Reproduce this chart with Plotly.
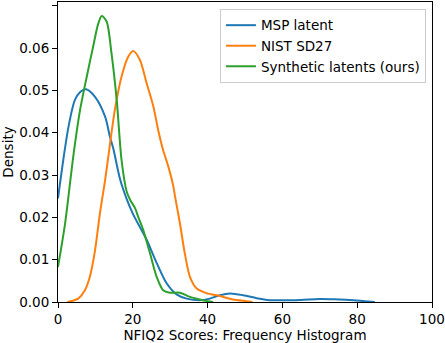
import plotly.graph_objects as go

msp_x = [0, 1.4, 2.8, 4.5, 6, 7.5, 9.9, 12.6, 13.9, 14.8, 16.6, 18.3, 20.1, 21.9, 23.7, 26.4, 29, 31.7, 34.4, 37.9, 40.6, 43.3, 46, 49.5, 53.1, 56, 60, 65, 70, 75, 78, 82, 84.7]
msp_y = [0.0245, 0.0335, 0.0414, 0.0477, 0.0497, 0.0503, 0.0485, 0.0438, 0.039, 0.0362, 0.029, 0.0245, 0.0207, 0.0177, 0.0147, 0.0092, 0.0045, 0.0018, 0.0008, 0.0004, 0.0008, 0.0016, 0.0020, 0.0016, 0.0009, 0.0005, 0.0004, 0.0005, 0.0007, 0.0006, 0.0005, 0.0002, 0.0]

nist_x = [2.5, 4, 5.4, 7.2, 8.5, 9.9, 11.2, 12.6, 13.4, 15.2, 17, 18.8, 20.1, 21.9, 23.7, 25.5, 26.8, 28.1, 29.5, 30.8, 31.3, 32.6, 33.9, 35.3, 37.1, 39.7, 43.3, 46.8, 50.4, 52]
nist_y = [0.0, 0.0003, 0.0008, 0.0028, 0.0059, 0.0122, 0.0209, 0.0288, 0.034, 0.0454, 0.0533, 0.058, 0.0593, 0.0572, 0.0517, 0.0462, 0.0406, 0.0359, 0.032, 0.0275, 0.0249, 0.0186, 0.0115, 0.0059, 0.0032, 0.0021, 0.0014, 0.0006, 0.0002, 0.0]

syn_x = [0, 1.9, 3.2, 4.1, 5.9, 7.7, 9.4, 10.8, 11.7, 13, 14.3, 15.7, 17, 18.4, 19.5, 20.6, 21.5, 22.8, 24.6, 26.4, 28.1, 29.9, 32.6, 35.3, 37.9, 40, 41.5]
syn_y = [0.0083, 0.0186, 0.028, 0.0345, 0.0454, 0.0533, 0.0604, 0.0659, 0.0676, 0.0663, 0.0588, 0.0477, 0.0335, 0.026, 0.0238, 0.0222, 0.0200, 0.017, 0.0115, 0.0059, 0.0028, 0.0022, 0.0022, 0.0012, 0.0006, 0.0002, 0.0]

x_ticks = [0, 20, 40, 60, 80, 100]
y_ticks = [0.00, 0.01, 0.02, 0.03, 0.04, 0.05, 0.06, 0.07]

series = [
    ("MSP latent", msp_x, msp_y, "#1f77b4"),
    ("NIST SD27", nist_x, nist_y, "#ff7f0e"),
    ("Synthetic latents (ours)", syn_x, syn_y, "#2ca02c"),
]

font = "DejaVu Sans"
fig = go.Figure()
for name, xs, ys, c in series:
    fig.add_trace(go.Scatter(x=xs, y=ys, mode="lines", name=name,
                             line=dict(color=c, width=2, shape="spline", smoothing=0.8)))

axis_common = dict(showgrid=False, zeroline=False, showline=True, linecolor="black",
                   linewidth=1, mirror=True, ticks="outside", ticklen=5, tickwidth=1,
                   tickcolor="black", automargin=False,
                   tickfont=dict(family=font, size=13.5, color="black"))

fig.update_xaxes(range=[0, 100], tickvals=x_ticks, ticktext=[str(v) for v in x_ticks],
                 title=dict(text="NFIQ2 Scores: Frequency Histogram", standoff=4,
                            font=dict(family=font, size=13.5, color="black")),
                 **axis_common)
fig.update_yaxes(range=[0, 0.0709], tickvals=y_ticks, ticktext=[f"{v:.2f}" for v in y_ticks],
                 title=dict(text="Density", standoff=7,
                            font=dict(family=font, size=13.5, color="black")),
                 **axis_common)

fig.update_layout(
    width=445, height=343,
    margin=dict(l=58, r=13, t=2, b=41),
    paper_bgcolor="white", plot_bgcolor="white",
    font=dict(family=font, size=13.5, color="black"),
    legend=dict(x=0.433, y=0.977, xanchor="left", yanchor="top",
                bgcolor="rgba(255,255,255,0.8)", bordercolor="#cccccc", borderwidth=1,
                font=dict(family=font, size=13.5, color="black"), tracegroupgap=0),
    showlegend=True,
)

fig.write_html("out.html", config={"displayModeBar": False},
               post_script="document.body.style.margin='0';document.body.style.overflow='hidden';")
